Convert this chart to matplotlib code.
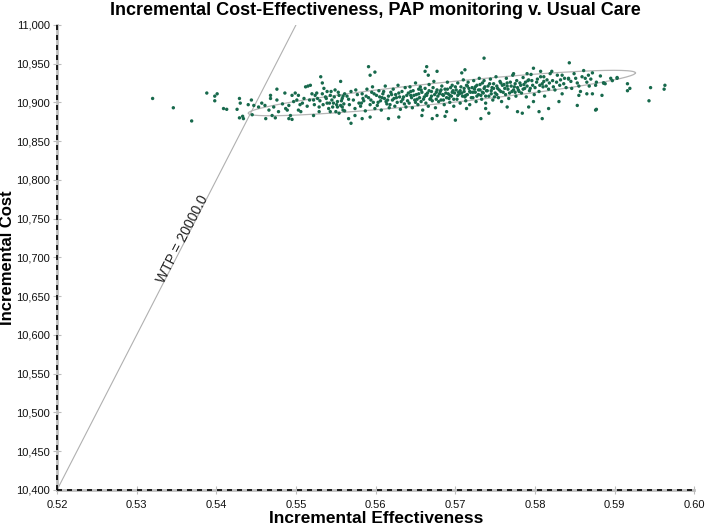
import numpy as np
import matplotlib
matplotlib.use("Agg")
import matplotlib.pyplot as plt
from matplotlib.ticker import FuncFormatter

plt.rcParams['font.family'] = ['Liberation Sans', 'DejaVu Sans']

# axis ranges / ticks
x_ticks = [0.52, 0.53, 0.54, 0.55, 0.56, 0.57, 0.58, 0.59, 0.60]
y_ticks = [10400, 10450, 10500, 10550, 10600, 10650, 10700, 10750, 10800, 10850, 10900, 10950, 11000]

# willingness to pay line (cost per unit effect), anchored at the lower-left corner
wtp = 20000.0

# confidence ellipse: centre, semi-major vector, half-height
ell_center = (0.5683, 10912)
ell_major = (0.0243, 26)
ell_half_h = 13.5

# simulation points: sparse edges and outliers
edge_pts = [
    (0.5346, 10893), (0.5320, 10905), (0.5369, 10876), (0.5388, 10912), (0.5398, 10908),
    (0.5401, 10911), (0.5398, 10902), (0.5409, 10892), (0.5413, 10891), (0.5429, 10905),
    (0.5430, 10899), (0.5426, 10891), (0.5444, 10903), (0.5440, 10897), (0.5447, 10896),
    (0.5429, 10880), (0.5433, 10882), (0.5445, 10884), (0.5434, 10879),
    (0.5453, 10894), (0.5457, 10899), (0.5461, 10896), (0.5468, 10909), (0.5468, 10905),
    (0.5466, 10890), (0.5472, 10894), (0.5470, 10883), (0.5476, 10917), (0.5476, 10903),
    (0.5478, 10888), (0.5483, 10898), (0.5486, 10912), (0.5487, 10892), (0.5489, 10890),
    (0.5491, 10896), (0.5493, 10883), (0.5491, 10879), (0.5495, 10909), (0.5497, 10901),
    (0.5499, 10912), (0.5501, 10903), (0.5503, 10909), (0.5503, 10890), (0.5506, 10888),
    (0.5508, 10899), (0.5512, 10920), (0.5515, 10921), (0.5518, 10922), (0.5520, 10911),
    (0.5522, 10903), (0.5522, 10883), (0.5524, 10909), (0.5527, 10905), (0.5529, 10894),
    (0.5529, 10888), (0.5531, 10933), (0.5533, 10925), (0.5533, 10911), (0.5535, 10918),
    (0.5537, 10907), (0.5539, 10914), (0.5539, 10899), (0.5541, 10892), (0.5543, 10909),
    (0.5545, 10903), (0.5546, 10894), (0.5549, 10916), (0.5550, 10888), (0.5552, 10901),
    (0.5554, 10909), (0.5556, 10927), (0.5556, 10896), (0.5558, 10905), (0.5559, 10890),
    (0.5560, 10898), (0.5561, 10911), (0.5462, 10879), (0.5474, 10880), (0.5495, 10878),
    (0.5543, 10888), (0.5552, 10894), (0.5554, 10886), (0.5547, 10899), (0.5558, 10894),
    (0.5591, 10946), (0.5664, 10946), (0.5569, 10873), (0.5599, 10939), (0.5593, 10935),
    (0.5662, 10940), (0.5666, 10935), (0.5616, 10879), (0.5629, 10881), (0.5593, 10881),
    (0.5583, 10879), (0.5671, 10879), (0.5658, 10883), (0.5566, 10879), (0.5574, 10883),
    (0.5736, 10957), (0.5677, 10940), (0.5708, 10938), (0.5712, 10942), (0.5773, 10937),
    (0.5689, 10888), (0.5687, 10882), (0.5714, 10892), (0.5738, 10892), (0.5742, 10886),
    (0.5765, 10894), (0.5778, 10888), (0.5784, 10886), (0.5677, 10883), (0.5700, 10877),
    (0.5732, 10879),
    (0.5798, 10944), (0.5807, 10940), (0.5821, 10940), (0.5843, 10951), (0.5861, 10941),
    (0.5867, 10935), (0.5790, 10937), (0.5792, 10929), (0.5811, 10933), (0.5834, 10935),
    (0.5842, 10931), (0.5876, 10922), (0.5886, 10925), (0.5897, 10928), (0.5872, 10911),
    (0.5884, 10909), (0.5853, 10896), (0.5876, 10890), (0.5809, 10879), (0.5817, 10892),
    (0.5792, 10894), (0.5805, 10888), (0.5830, 10901), (0.5798, 10901), (0.5855, 10909),
    (0.5865, 10911), (0.5895, 10931), (0.5903, 10932), (0.5886, 10925), (0.5877, 10891),
    (0.5903, 10931), (0.5916, 10924), (0.5919, 10918), (0.5916, 10915), (0.5945, 10919),
    (0.5963, 10922), (0.5962, 10917), (0.5943, 10902),
]

# dense core of the cloud
core_pts = [
    (0.5561, 10889), (0.5564, 10908), (0.5567, 10897), (0.5569, 10914), (0.5572, 10903),
    (0.5574, 10892), (0.5577, 10910), (0.5579, 10899), (0.5566, 10904), (0.5575, 10916),
    (0.5581, 10895), (0.5583, 10911), (0.5585, 10902), (0.5587, 10889), (0.5589, 10917),
    (0.5591, 10906), (0.5593, 10897), (0.5595, 10913), (0.5597, 10900), (0.5599, 10892),
    (0.5584, 10905), (0.5596, 10920),
    (0.5601, 10909), (0.5602, 10896), (0.5604, 10915), (0.5606, 10902), (0.5607, 10890),
    (0.5609, 10911), (0.5611, 10905), (0.5612, 10921), (0.5614, 10898), (0.5616, 10908),
    (0.5617, 10893), (0.5619, 10913), (0.5605, 10907), (0.5613, 10901),
    (0.5621, 10903), (0.5622, 10917), (0.5624, 10895), (0.5625, 10910), (0.5627, 10900),
    (0.5628, 10922), (0.5630, 10907), (0.5631, 10891), (0.5633, 10914), (0.5634, 10904),
    (0.5636, 10898), (0.5637, 10919), (0.5639, 10909), (0.5626, 10906), (0.5632, 10901),
    (0.5638, 10894),
    (0.5641, 10912), (0.5642, 10899), (0.5643, 10920), (0.5645, 10906), (0.5646, 10893),
    (0.5647, 10915), (0.5649, 10903), (0.5650, 10925), (0.5651, 10910), (0.5653, 10897),
    (0.5654, 10917), (0.5655, 10906), (0.5657, 10901), (0.5658, 10913), (0.5659, 10890),
    (0.5644, 10909), (0.5652, 10904), (0.5656, 10920),
    (0.5661, 10907), (0.5662, 10918), (0.5663, 10899), (0.5665, 10912), (0.5666, 10895),
    (0.5667, 10923), (0.5669, 10905), (0.5670, 10914), (0.5671, 10902), (0.5673, 10927),
    (0.5674, 10910), (0.5675, 10893), (0.5677, 10916), (0.5678, 10908), (0.5679, 10901),
    (0.5664, 10909), (0.5668, 10904), (0.5676, 10913),
    (0.5681, 10914), (0.5682, 10903), (0.5683, 10921), (0.5685, 10909), (0.5686, 10897),
    (0.5687, 10917), (0.5689, 10906), (0.5690, 10926), (0.5691, 10911), (0.5693, 10900),
    (0.5694, 10919), (0.5695, 10908), (0.5697, 10915), (0.5698, 10895), (0.5699, 10912),
    (0.5684, 10910), (0.5692, 10905), (0.5696, 10922),
    (0.5701, 10916), (0.5702, 10904), (0.5703, 10925), (0.5705, 10911), (0.5706, 10899),
    (0.5707, 10920), (0.5709, 10908), (0.5710, 10929), (0.5711, 10914), (0.5713, 10902),
    (0.5714, 10922), (0.5715, 10910), (0.5717, 10918), (0.5718, 10897), (0.5719, 10913),
    (0.5704, 10913), (0.5712, 10907), (0.5716, 10926),
    (0.5721, 10919), (0.5722, 10906), (0.5723, 10928), (0.5725, 10913), (0.5726, 10901),
    (0.5727, 10922), (0.5729, 10910), (0.5730, 10931), (0.5731, 10916), (0.5733, 10904),
    (0.5734, 10925), (0.5735, 10912), (0.5737, 10920), (0.5738, 10899), (0.5739, 10915),
    (0.5724, 10917), (0.5732, 10909), (0.5736, 10928),
    (0.5741, 10921), (0.5742, 10908), (0.5744, 10930), (0.5745, 10915), (0.5747, 10903),
    (0.5748, 10924), (0.5750, 10912), (0.5751, 10933), (0.5753, 10918), (0.5754, 10906),
    (0.5756, 10927), (0.5757, 10914), (0.5759, 10922), (0.5746, 10919), (0.5752, 10910),
    (0.5758, 10901),
    (0.5761, 10923), (0.5763, 10910), (0.5764, 10931), (0.5766, 10917), (0.5767, 10905),
    (0.5769, 10926), (0.5771, 10914), (0.5772, 10935), (0.5774, 10920), (0.5776, 10908),
    (0.5777, 10928), (0.5779, 10916), (0.5765, 10921), (0.5775, 10913),
    (0.5781, 10925), (0.5783, 10912), (0.5785, 10932), (0.5787, 10918), (0.5789, 10907),
    (0.5791, 10928), (0.5793, 10915), (0.5795, 10936), (0.5797, 10922), (0.5799, 10910),
    (0.5786, 10923),
    (0.5802, 10926), (0.5805, 10914), (0.5807, 10933), (0.5810, 10920), (0.5812, 10908),
    (0.5815, 10929), (0.5817, 10917), (0.5819, 10937), (0.5809, 10924),
    (0.5822, 10928), (0.5825, 10916), (0.5828, 10935), (0.5831, 10922), (0.5834, 10911),
    (0.5837, 10931), (0.5839, 10919),
    (0.5842, 10930), (0.5846, 10918), (0.5849, 10937), (0.5853, 10925), (0.5857, 10914),
    (0.5859, 10933),
    (0.5863, 10931), (0.5868, 10921), (0.5872, 10938), (0.5877, 10926), (0.5882, 10934),
    (0.5888, 10924),
]

# more of the dense middle band
core_pts_2 = [
    (0.5505, 10897), (0.5510, 10905), (0.5514, 10895), (0.5517, 10903), (0.5523, 10897),
    (0.5526, 10912), (0.5530, 10902), (0.5534, 10897), (0.5538, 10905), (0.5542, 10899),
    (0.5544, 10914), (0.5548, 10907), (0.5551, 10897), (0.5553, 10913), (0.5557, 10902),
    (0.5559, 10908),
    (0.5582, 10899), (0.5588, 10908), (0.5594, 10903), (0.5598, 10911), (0.5603, 10900),
    (0.5608, 10906), (0.5610, 10914), (0.5615, 10903), (0.5618, 10897), (0.5620, 10910),
    (0.5623, 10905), (0.5629, 10912), (0.5635, 10907), (0.5640, 10902), (0.5644, 10914),
    (0.5648, 10909), (0.5650, 10900), (0.5654, 10911), (0.5657, 10916), (0.5660, 10904),
    (0.5663, 10910), (0.5667, 10915), (0.5670, 10908), (0.5672, 10919), (0.5676, 10904),
    (0.5680, 10911), (0.5682, 10916), (0.5685, 10903), (0.5688, 10912), (0.5690, 10917),
    (0.5693, 10909), (0.5696, 10913), (0.5698, 10904), (0.5700, 10920), (0.5703, 10909),
    (0.5706, 10915), (0.5708, 10912), (0.5711, 10918), (0.5713, 10909), (0.5715, 10921),
    (0.5718, 10914), (0.5720, 10906), (0.5722, 10913), (0.5725, 10920), (0.5727, 10908),
    (0.5729, 10916), (0.5731, 10923), (0.5734, 10913), (0.5736, 10918), (0.5738, 10908),
    (0.5740, 10915), (0.5743, 10924), (0.5745, 10911), (0.5748, 10918), (0.5749, 10907),
    (0.5752, 10921), (0.5755, 10916), (0.5757, 10925), (0.5760, 10913), (0.5762, 10918),
    (0.5765, 10925), (0.5768, 10912), (0.5770, 10921), (0.5773, 10916), (0.5775, 10924),
    (0.5778, 10919), (0.5780, 10914), (0.5782, 10922), (0.5785, 10917), (0.5788, 10926),
    (0.5790, 10921), (0.5794, 10918), (0.5796, 10928), (0.5800, 10919), (0.5803, 10930),
    (0.5806, 10922), (0.5811, 10927), (0.5814, 10921), (0.5818, 10925), (0.5823, 10920),
    (0.5827, 10926), (0.5832, 10929), (0.5836, 10924), (0.5845, 10927), (0.5851, 10931),
    (0.5855, 10921), (0.5865, 10926), (0.5870, 10930),
]

pts = np.array(edge_pts + core_pts + core_pts_2)

fig = plt.figure(figsize=(7.09, 5.28), dpi=100)
ax = fig.add_axes([0.0804, 0.072, 0.899, 0.881])

xmin, xmax = x_ticks[0], x_ticks[-1]
ymin, ymax = y_ticks[0], y_ticks[-1]
ax.set_xlim(xmin, xmax)
ax.set_ylim(ymin, ymax)

# WTP line
wx = np.array([xmin, xmin + (ymax - ymin) / wtp])
ax.plot(wx, ymin + wtp * (wx - xmin), color='#b0b0b0', lw=0.8, zorder=1)

# ellipse
t = np.linspace(0, 2 * np.pi, 200)
ex = ell_center[0] + ell_major[0] * np.cos(t)
ey = ell_center[1] + ell_major[1] * np.cos(t) + ell_half_h * np.sin(t)
ax.plot(ex, ey, color='#b5b5b5', lw=0.9, zorder=2)

ax.scatter(pts[:, 0], pts[:, 1], s=6, color='#17694c', edgecolors='none', zorder=3)

# label along the WTP line
tx, ty = 0.5357, 10724
p1 = ax.transData.transform((xmin, ymin))
p2 = ax.transData.transform((wx[1], ymax))
ang = np.degrees(np.arctan2(p2[1] - p1[1], p2[0] - p1[0]))
ax.text(tx, ty, 'WTP = 20000.0', rotation=ang, rotation_mode='anchor',
        ha='center', va='center', fontsize=10, color='#222222')

# axes: gray solid with dashed black on top
for s in ['top', 'right']:
    ax.spines[s].set_visible(False)
for s in ['left', 'bottom']:
    ax.spines[s].set_color('#bdbdbd')
    ax.spines[s].set_linewidth(2.0)
ax.axvline(xmin, color='black', lw=1.2, dashes=(3, 3), zorder=4, clip_on=False)
ax.axhline(ymin, color='black', lw=1.2, dashes=(3, 3), zorder=4, clip_on=False)

ax.set_xticks(x_ticks)
ax.set_yticks(y_ticks)
ax.xaxis.set_major_formatter(FuncFormatter(lambda v, p: '%.2f' % v))
ax.yaxis.set_major_formatter(FuncFormatter(lambda v, p: '{:,.0f}'.format(v)))
ax.tick_params(axis='both', direction='inout', length=6, width=0.8, color='#bdbdbd',
               labelsize=8, labelcolor='#111111')
ax.tick_params(axis='x', pad=4)
ax.tick_params(axis='y', pad=2)

ax.set_xlabel('Incremental Effectiveness', fontsize=12.5, fontweight='bold', labelpad=1)
ax.set_ylabel('Incremental Cost', fontsize=12, fontweight='bold')
ax.yaxis.set_label_coords(-0.066, 0.5)
ax.set_title('Incremental Cost-Effectiveness, PAP monitoring v. Usual Care',
             fontsize=13, fontweight='bold', pad=7)

fig.savefig('out.png', dpi=100)
